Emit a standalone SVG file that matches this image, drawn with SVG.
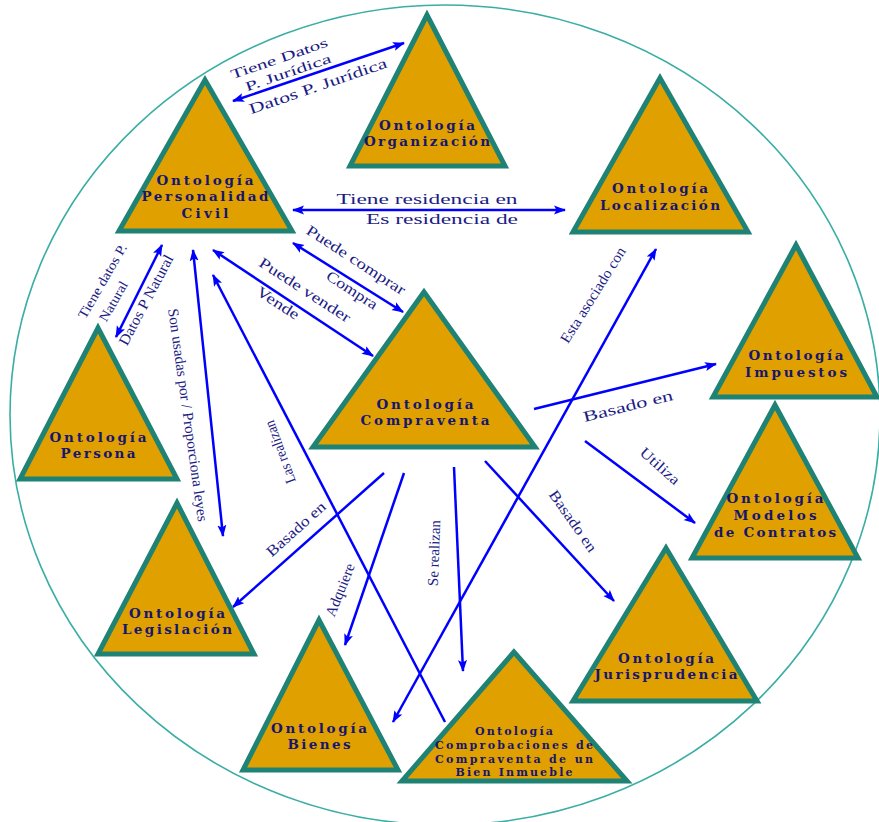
<svg xmlns="http://www.w3.org/2000/svg" width="879" height="822" viewBox="0 0 879 822">
<style>
.bg{fill:#ffffff}
.ring{fill:none;stroke:#3aaea4;stroke-width:1.6}
.tri{fill:#E0A000;stroke:#1E8274;stroke-width:5;stroke-linejoin:miter}
.nt{font-family:"DejaVu Serif","Liberation Serif",serif;font-weight:bold;font-size:13.5px;fill:#16166e;text-anchor:middle}
.nts{font-size:11px}
.cn{fill:none;stroke:#0000ff;stroke-width:2.5}
.lb{font-family:"Liberation Serif","DejaVu Serif",serif;font-size:15px;fill:#1c1c86;text-anchor:middle}
.lbs{font-size:13.5px}
</style>
<defs>
<marker id="ah" markerUnits="userSpaceOnUse" markerWidth="12" markerHeight="10" refX="11" refY="4.5" orient="auto-start-reverse" viewBox="0 0 12 9">
<path d="M0,0 L12,4.5 L0,9 L2.5,4.5 z" fill="#0000ff"/>
</marker>
</defs>
<rect class="bg" x="0" y="0" width="879" height="822"/>
<ellipse class="ring" cx="445" cy="415" rx="435" ry="410"/>

<g id="connectors">
<line class="cn" x1="233" y1="101" x2="404" y2="43" marker-start="url(#ah)" marker-end="url(#ah)"/>
<line class="cn" x1="293" y1="210" x2="565" y2="210" marker-start="url(#ah)" marker-end="url(#ah)"/>
<line class="cn" x1="293" y1="243" x2="403" y2="312" marker-start="url(#ah)" marker-end="url(#ah)"/>
<line class="cn" x1="213" y1="250" x2="373" y2="356" marker-start="url(#ah)" marker-end="url(#ah)"/>
<line class="cn" x1="162" y1="245" x2="116" y2="337" marker-start="url(#ah)" marker-end="url(#ah)"/>
<line class="cn" x1="193" y1="250" x2="223" y2="536" marker-start="url(#ah)" marker-end="url(#ah)"/>
<line class="cn" x1="445" y1="722" x2="213" y2="275" marker-end="url(#ah)"/>
<line class="cn" x1="384" y1="473" x2="233" y2="607" marker-end="url(#ah)"/>
<line class="cn" x1="404" y1="473" x2="345" y2="645" marker-end="url(#ah)"/>
<line class="cn" x1="454" y1="467" x2="463" y2="671" marker-end="url(#ah)"/>
<line class="cn" x1="485" y1="461" x2="614" y2="601" marker-end="url(#ah)"/>
<line class="cn" x1="393" y1="722" x2="656" y2="249" marker-start="url(#ah)" marker-end="url(#ah)"/>
<line class="cn" x1="534" y1="409" x2="716" y2="364" marker-end="url(#ah)"/>
<line class="cn" x1="585" y1="441" x2="695" y2="523" marker-end="url(#ah)"/>

<text class="lb lbs" transform="translate(279,58) rotate(-19)" y="5" textLength="102" lengthAdjust="spacingAndGlyphs">Tiene Datos</text>
<text class="lb lbs" transform="translate(288,72) rotate(-19)" y="5" textLength="90" lengthAdjust="spacingAndGlyphs">P. Jurídica</text>
<text class="lb" transform="translate(318,86) rotate(-19)" y="5" textLength="145" lengthAdjust="spacingAndGlyphs">Datos P. Jurídica</text>
<text class="lb" x="427" y="204" textLength="181" lengthAdjust="spacingAndGlyphs">Tiene residencia en</text>
<text class="lb" x="442" y="224" textLength="152" lengthAdjust="spacingAndGlyphs">Es residencia de</text>
<text class="lb" transform="translate(356,260) rotate(33)" y="5" textLength="115" lengthAdjust="spacingAndGlyphs">Puede comprar</text>
<text class="lb" transform="translate(352,290) rotate(33)" y="5" textLength="58" lengthAdjust="spacingAndGlyphs">Compra</text>
<text class="lb" transform="translate(305,290) rotate(33)" y="5" textLength="106" lengthAdjust="spacingAndGlyphs">Puede vender</text>
<text class="lb" transform="translate(278,303) rotate(33)" y="5" textLength="48" lengthAdjust="spacingAndGlyphs">Vende</text>
<text class="lb lbs" transform="translate(102,281) rotate(-60)" y="5" textLength="84" lengthAdjust="spacingAndGlyphs">Tiene datos P.</text>
<text class="lb lbs" transform="translate(113,301) rotate(-60)" y="5" textLength="44" lengthAdjust="spacingAndGlyphs">Natural</text>
<text class="lb" transform="translate(146,300) rotate(-62)" y="5" textLength="100" lengthAdjust="spacingAndGlyphs">Datos P Natural</text>
<text class="lb" transform="translate(188,415) rotate(82)" y="5" textLength="215" lengthAdjust="spacingAndGlyphs">Son usadas por / Proporciona leyes</text>
<text class="lb" transform="translate(280,452) rotate(-110)" y="5" textLength="66" lengthAdjust="spacingAndGlyphs">Las realizan</text>
<text class="lb" transform="translate(296,529) rotate(-42)" y="5" textLength="74" lengthAdjust="spacingAndGlyphs">Basado en</text>
<text class="lb" transform="translate(340,590) rotate(-68)" y="5" textLength="56" lengthAdjust="spacingAndGlyphs">Adquiere</text>
<text class="lb" transform="translate(434,553) rotate(-88)" y="5" textLength="66" lengthAdjust="spacingAndGlyphs">Se realizan</text>
<text class="lb" transform="translate(573,521) rotate(55)" y="5" textLength="72" lengthAdjust="spacingAndGlyphs">Basado en</text>
<text class="lb" transform="translate(593,295) rotate(-58)" y="5" textLength="110" lengthAdjust="spacingAndGlyphs">Esta asociado con</text>
<text class="lb" transform="translate(628,406) rotate(-14)" y="5" textLength="92" lengthAdjust="spacingAndGlyphs">Basado en</text>
<text class="lb" transform="translate(660,466) rotate(42)" y="5" textLength="48" lengthAdjust="spacingAndGlyphs">Utiliza</text>
</g>

<g id="n-personalidad">
<polygon class="tri" points="205,80 119,231 292,231"/>
<text class="nt" x="205" y="185" textLength="97" lengthAdjust="spacing">Ontología</text>
<text class="nt" x="205" y="201" textLength="127" lengthAdjust="spacing">Personalidad</text>
<text class="nt" x="205" y="218" textLength="47" lengthAdjust="spacing">Civil</text>
</g>
<g id="n-organizacion">
<polygon class="tri" points="427,15 350,166 505,166"/>
<text class="nt" x="427" y="130" textLength="96" lengthAdjust="spacing">Ontología</text>
<text class="nt" x="427" y="146" textLength="126" lengthAdjust="spacing">Organización</text>
</g>
<g id="n-localizacion">
<polygon class="tri" points="660,78 573,232 748,232"/>
<text class="nt" x="660" y="193" textLength="96" lengthAdjust="spacing">Ontología</text>
<text class="nt" x="660" y="210" textLength="120" lengthAdjust="spacing">Localización</text>
</g>
<g id="n-impuestos">
<polygon class="tri" points="796,245 713,397 877,397"/>
<text class="nt" x="796" y="360" textLength="95" lengthAdjust="spacing">Ontología</text>
<text class="nt" x="796" y="377" textLength="102" lengthAdjust="spacing">Impuestos</text>
</g>
<g id="n-modelos">
<polygon class="tri" points="775,405 692,558 858,558"/>
<text class="nt" x="775" y="503" textLength="97" lengthAdjust="spacing">Ontología</text>
<text class="nt" x="775" y="520" textLength="83" lengthAdjust="spacing">Modelos</text>
<text class="nt" x="775" y="537" textLength="122" lengthAdjust="spacing">de Contratos</text>
</g>
<g id="n-compraventa">
<polygon class="tri" points="424,292 313,447 535,447"/>
<text class="nt" x="425" y="409" textLength="97" lengthAdjust="spacing">Ontología</text>
<text class="nt" x="425" y="425" textLength="129" lengthAdjust="spacing">Compraventa</text>
</g>
<g id="n-persona">
<polygon class="tri" points="98,328 20,479 177,479"/>
<text class="nt" x="98" y="442" textLength="97" lengthAdjust="spacing">Ontología</text>
<text class="nt" x="98" y="458" textLength="75" lengthAdjust="spacing">Persona</text>
</g>
<g id="n-legislacion">
<polygon class="tri" points="177,503 98,654 254,654"/>
<text class="nt" x="177" y="618" textLength="96" lengthAdjust="spacing">Ontología</text>
<text class="nt" x="177" y="634" textLength="110" lengthAdjust="spacing">Legislación</text>
</g>
<g id="n-bienes">
<polygon class="tri" points="319,620 243,770 398,770"/>
<text class="nt" x="319" y="733" textLength="96" lengthAdjust="spacing">Ontología</text>
<text class="nt" x="319" y="749" textLength="63" lengthAdjust="spacing">Bienes</text>
</g>
<g id="n-jurisprudencia">
<polygon class="tri" points="666,548 573,701 757,701"/>
<text class="nt" x="666" y="663" textLength="96" lengthAdjust="spacing">Ontología</text>
<text class="nt" x="666" y="679" textLength="143" lengthAdjust="spacing">Jurisprudencia</text>
</g>
<g id="n-comprobaciones">
<polygon class="tri" points="514,652 402,781 627,781"/>
<text class="nt nts" x="514" y="735" textLength="78" lengthAdjust="spacing">Ontología</text>
<text class="nt nts" x="514" y="749" textLength="158" lengthAdjust="spacing">Comprobaciones de</text>
<text class="nt nts" x="514" y="763" textLength="158" lengthAdjust="spacing">Compraventa de un</text>
<text class="nt nts" x="514" y="776" textLength="117" lengthAdjust="spacing">Bien Inmueble</text>
</g>
</svg>
